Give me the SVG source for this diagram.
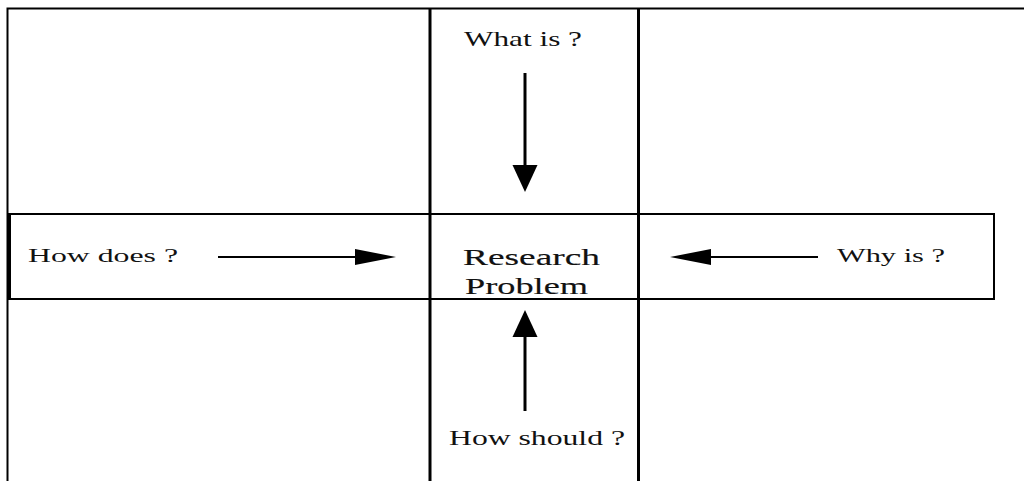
<svg xmlns="http://www.w3.org/2000/svg" width="1024" height="481" viewBox="0 0 1024 481">
<style>
.frame{fill:none;stroke:#000;stroke-width:2}
.thick{fill:none;stroke:#000;stroke-width:3}
.lbl{font-family:"Liberation Serif","Times New Roman",serif;fill:#111}
.conn{stroke:#000;fill:none}
.head{fill:#000;stroke:none}
</style>
<rect width="1024" height="481" fill="#fff"/>
<g id="frame">
<path class="frame" d="M1024 8.5H7.5V481"/>
</g>
<g id="band">
<rect class="frame" x="9" y="214" width="985" height="85"/>
<path class="thick" d="M9.5 214V299"/>
</g>
<g id="column">
<path class="thick" d="M430 8V481M638.5 8V481"/>
</g>
<g id="what">
<text class="lbl" x="464" y="46" font-size="21" textLength="118" lengthAdjust="spacingAndGlyphs">What is ?</text>
</g>
<g id="research">
<text class="lbl" x="463" y="265" font-size="24" stroke="#111" stroke-width="0.15" textLength="137" lengthAdjust="spacingAndGlyphs">Research</text>
<text class="lbl" x="465" y="294" font-size="24" stroke="#111" stroke-width="0.15" textLength="123" lengthAdjust="spacingAndGlyphs">Problem</text>
</g>
<g id="howdoes">
<text class="lbl" x="28" y="262" font-size="19" textLength="150" lengthAdjust="spacingAndGlyphs">How does ?</text>
</g>
<g id="whyis">
<text class="lbl" x="837" y="262" font-size="19" textLength="108" lengthAdjust="spacingAndGlyphs">Why is ?</text>
</g>
<g id="howshould">
<text class="lbl" x="449" y="445" font-size="20" textLength="176" lengthAdjust="spacingAndGlyphs">How should ?</text>
</g>
<g id="connectors">
<path class="conn" stroke-width="2" d="M218 257H360"/>
<polygon class="head" points="396,257 355,249 355,265"/>
<path class="conn" stroke-width="2" d="M818 257H705"/>
<polygon class="head" points="670,257 711,249 711,265"/>
<path class="conn" stroke-width="3" d="M525 73V170"/>
<polygon class="head" points="525,192 512.5,165 537.5,165"/>
<path class="conn" stroke-width="3" d="M525 411V332"/>
<polygon class="head" points="525,310 512.5,337 537.5,337"/>
</g>
</svg>
